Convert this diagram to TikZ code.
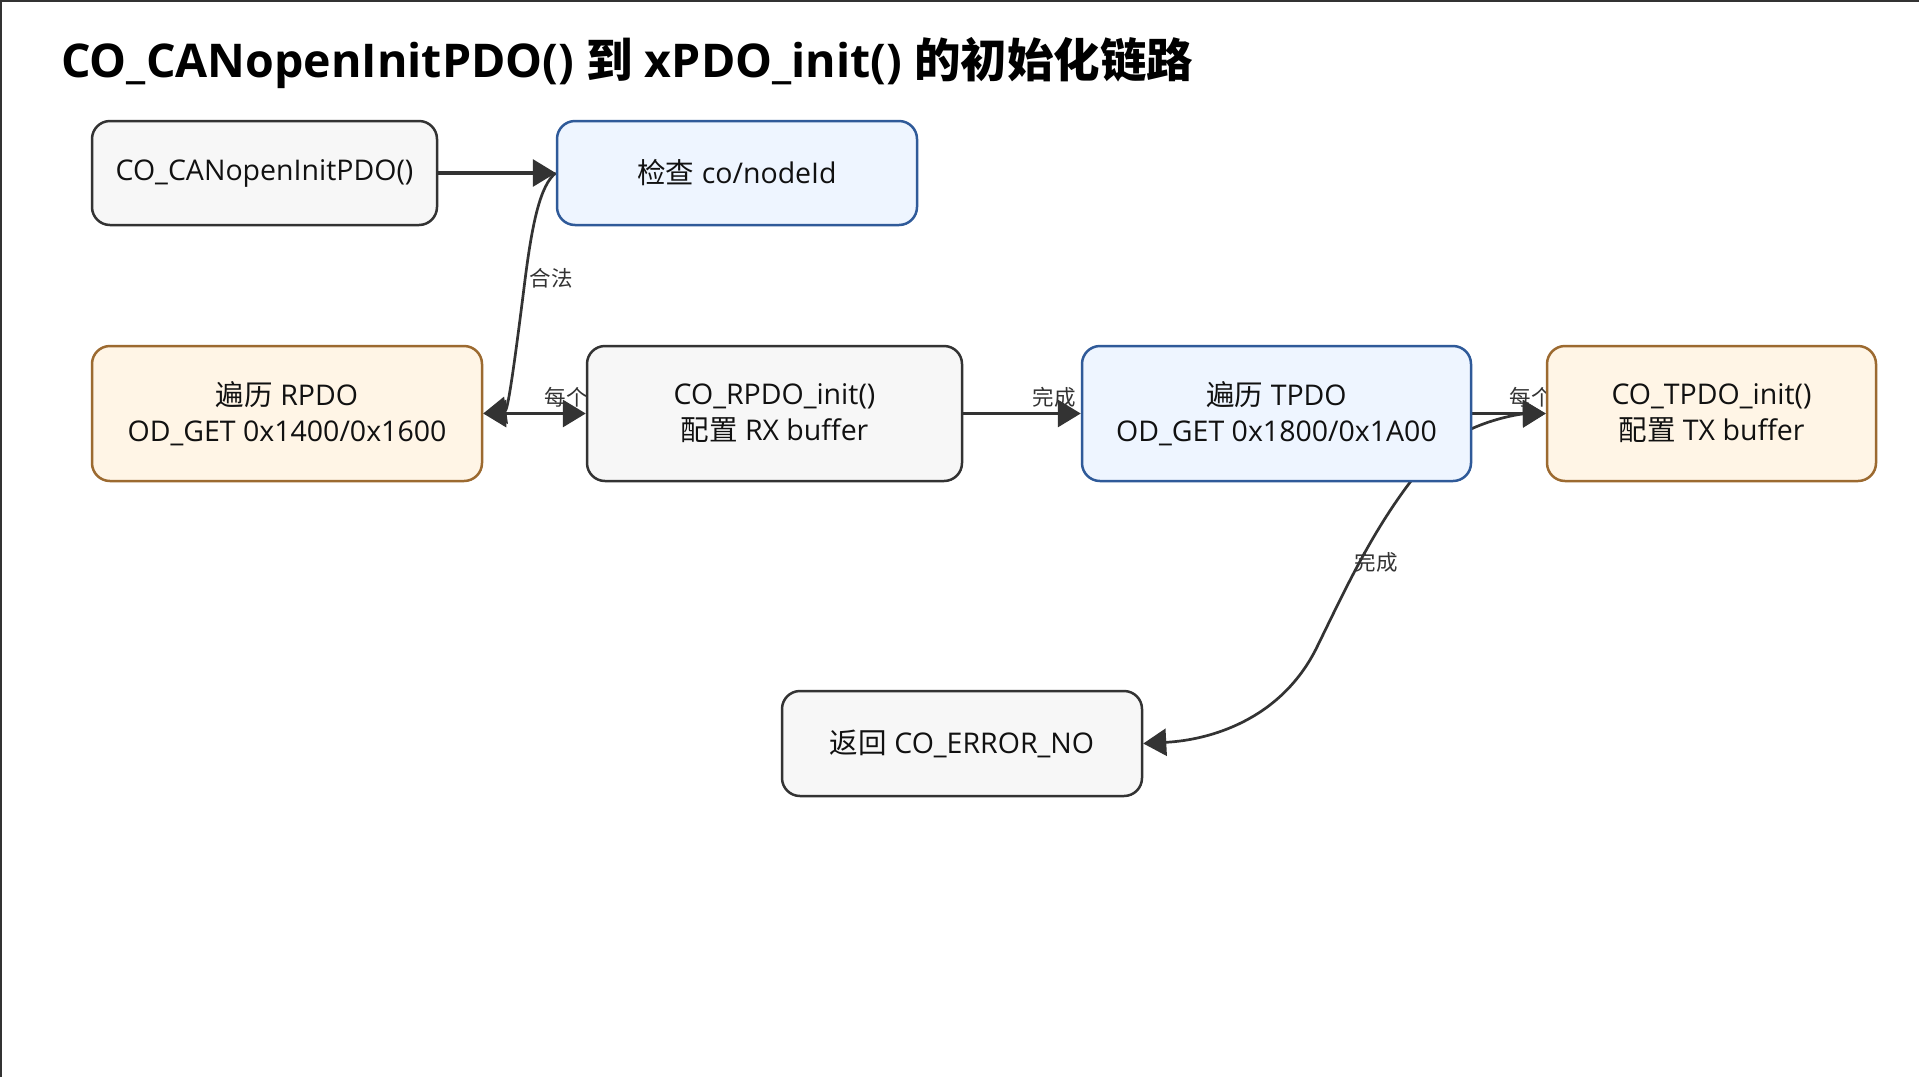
\documentclass[tikz,border=0pt]{standalone}
\usepackage{fontspec}
\setmainfont{Open Sans}
\newfontfamily\cjkfont{Noto Sans CJK SC}
\newcommand\zh[1]{{\cjkfont #1}}
\usetikzlibrary{arrows.meta}
\pgfdeclarelayer{bg}
\pgfsetlayers{bg,main}
\definecolor{edgec}{HTML}{333333}
\definecolor{gfill}{HTML}{F7F7F7}
\definecolor{gline}{HTML}{333333}
\definecolor{bfill}{HTML}{EEF5FF}
\definecolor{bline}{HTML}{2F5A99}
\definecolor{ofill}{HTML}{FFF5E6}
\definecolor{oline}{HTML}{9C6A30}
\definecolor{txt}{HTML}{111111}
\begin{document}
\begin{tikzpicture}[x=1pt,y=-1pt,
  box/.style={rectangle, rounded corners=18pt, line width=2.5pt, align=center,
    font=\fontsize{28.5}{36}\selectfont, text=txt, inner sep=0pt, minimum height=104pt},
  graybox/.style={box, draw=gline, fill=gfill},
  bluebox/.style={box, draw=bline, fill=bfill},
  orangebox/.style={box, draw=oline, fill=ofill},
  tip/.style={-{Triangle[length=23pt,width=27pt]}},
  edge/.style={draw=edgec, line width=3.3pt, tip},
  cedge/.style={draw=edgec, line width=2.7pt, tip},
  elabel/.style={font=\fontsize{21.5}{24}\selectfont\cjkfont, text=edgec, inner sep=0pt}
]
\useasboundingbox (0,0) rectangle (1919,1077);

\node[anchor=base west, inner sep=0pt, font=\bfseries\fontsize{46.5}{52}\selectfont, text=black] (title) at (61,77)
  {CO\_CANopenInitPDO() \zh{到} xPDO\_init() \zh{的初始化链路}};

\node[graybox, minimum width=345pt] (init) at (264.5,173) {CO\_CANopenInitPDO()};
\node[bluebox, minimum width=360pt] (chk) at (737,173) {\zh{检查} co/nodeId};
\node[orangebox, minimum width=390pt, minimum height=135pt] (rp) at (287,413.5) {\zh{遍历} RPDO\\OD\_GET 0x1400/0x1600};
\node[graybox, minimum width=375pt, minimum height=135pt] (rpi) at (774.5,413.5) {CO\_RPDO\_init()\\\zh{配置} RX buffer};
\node[bluebox, minimum width=389pt, minimum height=135pt] (tp) at (1276.5,413.5) {\zh{遍历} TPDO\\OD\_GET 0x1800/0x1A00};
\node[orangebox, minimum width=329pt, minimum height=135pt] (tpi) at (1711.5,413.5) {CO\_TPDO\_init()\\\zh{配置} TX buffer};
\node[graybox, minimum width=360pt, minimum height=105pt] (ret) at (962,743.5) {\zh{返回} CO\_ERROR\_NO};

\coordinate (tpc) at (1471,429);
\coordinate (tps) at (1411,481);

\begin{pgfonlayer}{bg}
\fill[white] (0,0) rectangle (1919,1077);
\draw[line width=2pt, edgec] (1,1077) -- (1,1) -- (1919,1);
\draw[edge] (init.east) -- (chk.west);
\draw[cedge] (chk.west) .. controls (540,185) and (532,225) .. (525,280) .. controls (515,360) and (508,410) .. (rp.east);
\node[elabel] (l1) at (551,278) {合法};
\draw[edge, {Triangle[length=23pt,width=27pt]}-{Triangle[length=23pt,width=27pt]}] (rp.east) -- (rpi.west);
\node[elabel] (l2) at (566,397) {每个};
\draw[edge] (rpi.east) -- (tp.west);
\node[elabel] (l3) at (1054,397) {完成};
\draw[edge] (tp.east) -- (tpi.west);
\draw[cedge] (tpc) .. controls (1495,418) and (1520,414) .. (tpi.west);
\node[elabel] (l4) at (1531,397) {每个};
\draw[cedge] (tps) .. controls (1370,535) and (1345,590) .. (1316,649) .. controls (1280,720) and (1210,740) .. (ret.east);
\node[elabel] (l5) at (1376,562) {完成};
\end{pgfonlayer}
\end{tikzpicture}
\end{document}
